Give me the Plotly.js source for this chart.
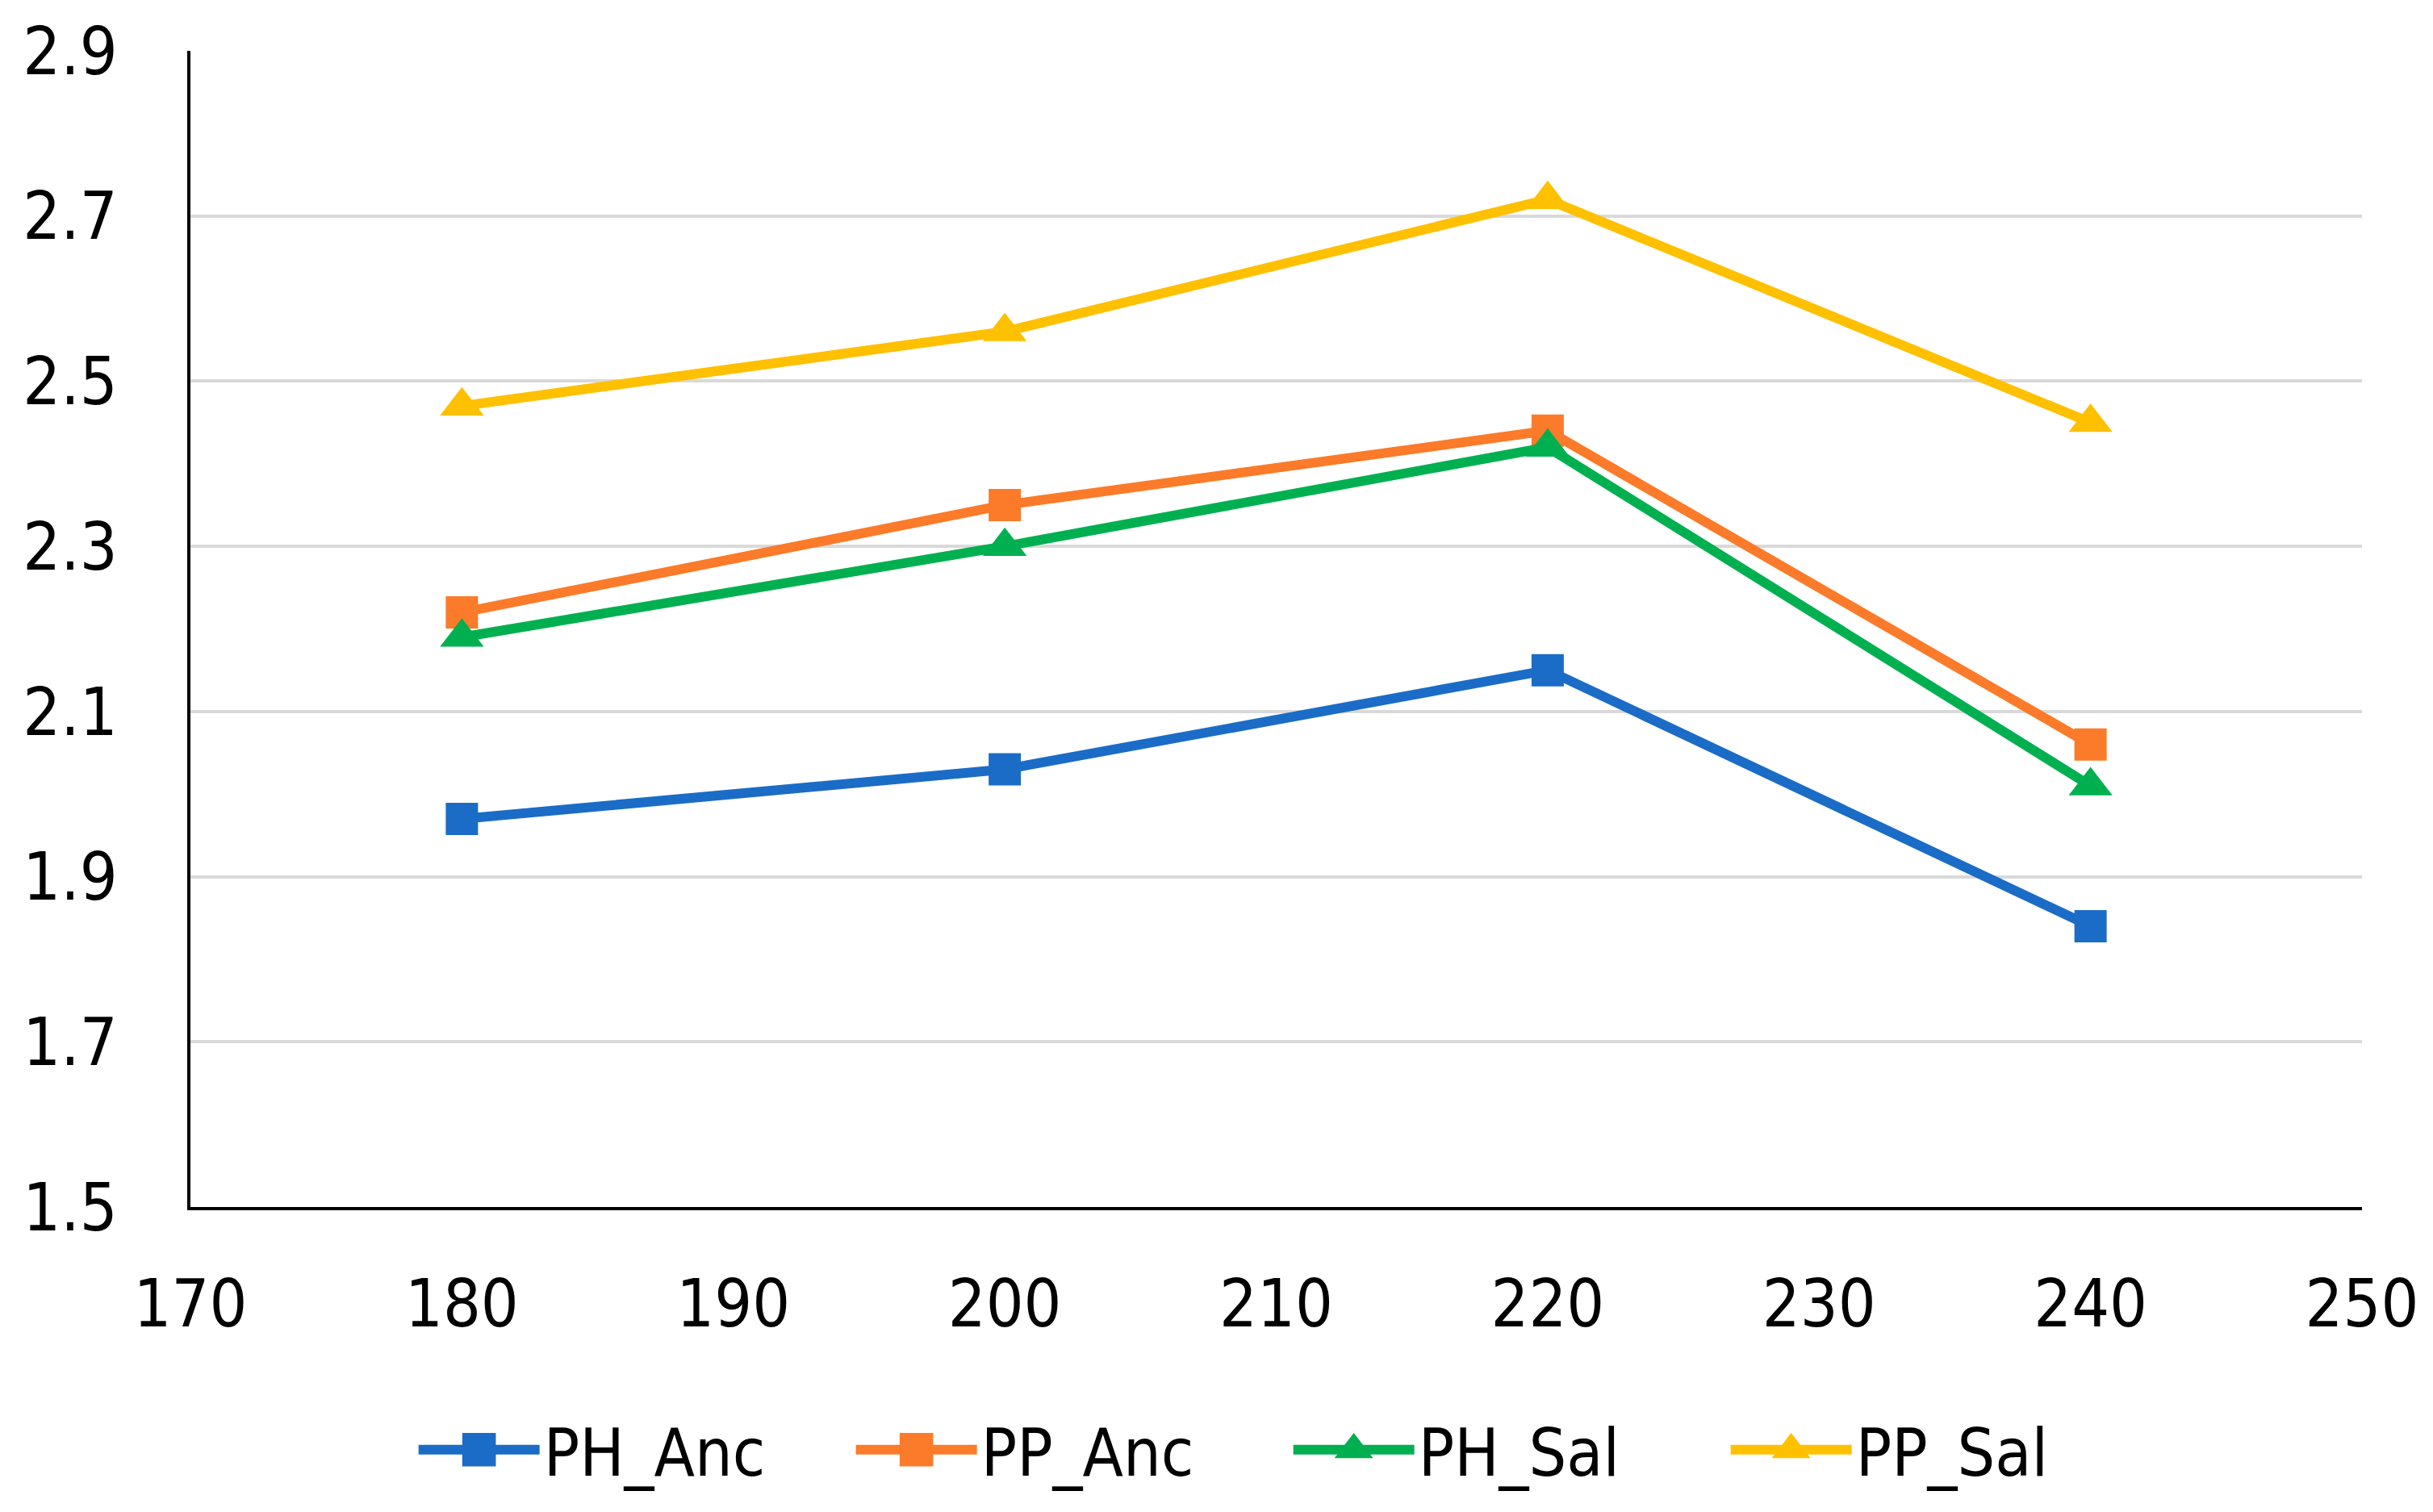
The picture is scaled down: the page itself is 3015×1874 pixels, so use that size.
<!DOCTYPE html>
<html>
<head>
<meta charset="utf-8">
<script src="https://cdn.plot.ly/plotly-3.0.1.min.js"></script>
<style>
html,body{margin:0;padding:0;background:#fff;}
#chart{width:3015px;height:1874px;}
#chart svg text{font-stretch:condensed !important;}
</style>
</head>
<body>
<div id="chart"></div>
<script>
var xValues = [180, 200, 220, 240];
var seriesNames = ["PH_Anc", "PP_Anc", "PH_Sal", "PP_Sal"];
var phAnc = [1.97, 2.03, 2.15, 1.84];
var ppAnc = [2.22, 2.35, 2.44, 2.06];
var phSal = [2.19, 2.30, 2.42, 2.01];
var ppSal = [2.47, 2.56, 2.72, 2.45];
var xTicks = [170, 180, 190, 200, 210, 220, 230, 240, 250];
var yTicks = [1.5, 1.7, 1.9, 2.1, 2.3, 2.5, 2.7, 2.9];

var colors = ["#1B6CC6", "#FB7B2A", "#00B050", "#FFC000"];
var symbols = ["square", "square", "triangle-up", "triangle-up"];
var sizes = [40, 40, 47, 47];
var allY = [phAnc, ppAnc, phSal, ppSal];
var FONT = "'DejaVu Sans', sans-serif";

var traces = allY.map(function (ys, i) {
  return {
    x: xValues, y: ys, name: seriesNames[i], type: "scatter", mode: "lines+markers",
    line: {color: colors[i], width: 12},
    marker: {symbol: symbols[i], size: sizes[i], color: colors[i]}
  };
});

var layout = {
  width: 3015, height: 1874,
  margin: {l: 236, r: 88, t: 63, b: 378},
  paper_bgcolor: "#fff", plot_bgcolor: "#fff",
  font: {family: FONT, size: 82, color: "#000"},
  showlegend: true,
  legend: {orientation: "h", xref: "paper", x: 0.506, xanchor: "center", y: -0.21, yanchor: "middle",
           font: {family: FONT, size: 82, color: "#000"}, itemwidth: 150, tracegroupgap: 0,
           entrywidth: 377, entrywidthmode: "pixels"},
  xaxis: {range: [170, 250], tickvals: xTicks, ticktext: xTicks.map(String),
          showgrid: false, zeroline: false, showline: true, linecolor: "#000", linewidth: 4,
          ticks: "", ticklabelstandoff: 46, tickfont: {family: FONT, size: 82, color: "#000"}},
  yaxis: {range: [1.5, 2.9], tickvals: yTicks, ticktext: yTicks.map(function (v) { return v.toFixed(1); }),
          showgrid: true, gridcolor: "#D9D9D9", gridwidth: 4, zeroline: false,
          showline: true, linecolor: "#000", linewidth: 4,
          ticks: "", ticklabelstandoff: 70, tickfont: {family: FONT, size: 82, color: "#000"}}
};

Plotly.newPlot("chart", traces, layout, {staticPlot: true}).then(function (gd) {
  // enlarge legend symbols to match the plotted markers
  var pts = gd.querySelectorAll(".legend .legendpoints path.scatterpts");
  pts.forEach(function (p) {
    var t = p.getAttribute("transform") || "";
    p.setAttribute("transform", t + " scale(2.6)");
  });
  var lines = gd.querySelectorAll(".legend .legendlines path");
  lines.forEach(function (p) { p.style.strokeWidth = "12px"; });
});
</script>
</body>
</html>
